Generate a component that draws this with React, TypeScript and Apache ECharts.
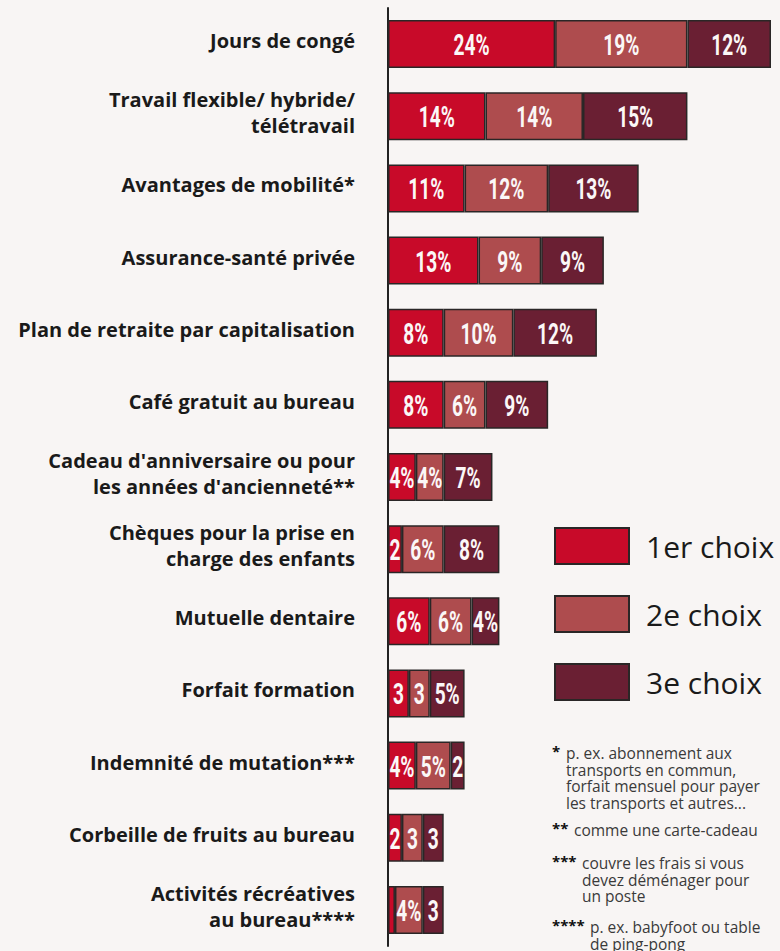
import React, { useEffect, useRef } from "react";
import * as echarts from "echarts";

const categories = [
  "Jours de congé",
  "Travail flexible/ hybride/\ntélétravail",
  "Avantages de mobilité*",
  "Assurance-santé privée",
  "Plan de retraite par capitalisation",
  "Café gratuit au bureau",
  "Cadeau d'anniversaire ou pour\nles années d'ancienneté**",
  "Chèques pour la prise en\ncharge des enfants",
  "Mutuelle dentaire",
  "Forfait formation",
  "Indemnité de mutation***",
  "Corbeille de fruits au bureau",
  "Activités récréatives\nau bureau****",
];

const firstChoice = [24, 14, 11, 13, 8, 8, 4, 2, 6, 3, 4, 2, 1];
const secondChoice = [19, 14, 12, 9, 10, 6, 4, 6, 6, 3, 5, 3, 4];
const thirdChoice = [12, 15, 13, 9, 12, 9, 7, 8, 4, 5, 2, 3, 3];

const seriesNames = ["1er choix", "2e choix", "3e choix"];
const seriesColors = ["#C80A29", "#AE4C4E", "#6A1F33"];

const footnotes = [
  { mark: "*", lines: ["p. ex. abonnement aux", "transports en commun,", "forfait mensuel pour payer", "les transports et autres..."] },
  { mark: "**", lines: ["comme une carte-cadeau"] },
  { mark: "***", lines: ["couvre les frais si vous", "devez déménager pour", "un poste"] },
  { mark: "****", lines: ["p. ex. babyfoot ou table", "de ping-pong"] },
];

const BG = "#F8F5F4";

export default function App() {
  const ref = useRef<HTMLDivElement>(null);

  useEffect(() => {
    document.body.style.margin = "0";
    document.body.style.background = BG;
    const chart = echarts.init(ref.current!, null, { renderer: "svg" });

    const fmt = (v: number) => {
      if (v >= 4) return v + "%";
      if (v >= 2) return String(v);
      return "";
    };

    const datasets = [firstChoice, secondChoice, thirdChoice];
    const series: any[] = datasets.map((d, i) => ({
      name: seriesNames[i],
      type: "bar",
      stack: "total",
      data: d,
      barWidth: 48,
      itemStyle: {
        color: seriesColors[i],
        borderColor: "#2A2626",
        borderWidth: 1.5,
      },
    }));

    // segment labels: [start, categoryIndex, end, value]
    const labelData: number[][] = [];
    categories.forEach((_, ci) => {
      let acc = 0;
      datasets.forEach((d) => {
        labelData.push([acc, ci, acc + d[ci], d[ci]]);
        acc += d[ci];
      });
    });

    series.push({
      type: "custom",
      name: "labels",
      z: 5,
      silent: true,
      data: labelData,
      encode: { x: [0, 2], y: 1 },
      renderItem: (params: any, api: any) => {
        const s = api.value(0);
        const ci = api.value(1);
        const e = api.value(2);
        const v = api.value(3);
        const p = api.coord([(s + e) / 2, ci]);
        return {
          type: "text",
          x: p[0],
          y: p[1] + 1,
          scaleX: 0.66,
          style: {
            text: fmt(v),
            fill: "#FBF7F7",
            font: "bold 29px Roboto, sans-serif",
            align: "center",
            verticalAlign: "middle",
          },
        };
      },
    });

    const footStarts = [753, 830, 863, 927];
    const textOffsets = [13, 21, 29, 37];
    const LH = 16.7;
    const graphics: any[] = [];
    footnotes.forEach((f, i) => {
      graphics.push({
        type: "text",
        left: 552,
        top: footStarts[i] - 10,
        style: {
          text: f.mark,
          font: "bold 15px 'Open Sans', sans-serif",
          fill: "#111",
        },
      });
      f.lines.forEach((line, j) => {
        graphics.push({
          type: "text",
          x: 553 + textOffsets[i],
          y: footStarts[i] + j * LH,
          style: {
            text: line,
            font: "15.5px 'Open Sans', sans-serif",
            fill: "#3A3A3A",
            verticalAlign: "middle",
            lineHeight: LH,
          },
        });
      });
    });

    chart.setOption({
      animation: false,
      backgroundColor: BG,
      grid: { left: 388, right: 9, top: 8, bottom: 5, containLabel: false },
      xAxis: {
        type: "value",
        min: 0,
        max: 55,
        show: false,
      },
      yAxis: {
        type: "category",
        data: categories,
        inverse: true,
        axisLine: { show: true, lineStyle: { color: "#222", width: 2 } },
        axisTick: { show: false },
        axisLabel: {
          margin: 33,
          color: "#1A1A1A",
          fontFamily: "'Open Sans', sans-serif",
          fontWeight: "bold",
          fontSize: 20,
          lineHeight: 26,
          align: "right",
          formatter: (v: string) => v + "\n{s| }",
          rich: {
            s: { height: 7, lineHeight: 7, fontSize: 2 },
          },
        },
      },
      legend: {
        data: seriesNames,
        orient: "vertical",
        left: 554,
        top: 527,
        padding: 0,
        icon: "rect",
        itemWidth: 74,
        itemHeight: 36,
        itemGap: 30,
        textStyle: {
          fontFamily: "'Open Sans', sans-serif",
          fontSize: 30,
          color: "#1A1A1A",
          padding: [0, 0, 0, 12],
        },
      },
      graphic: graphics,
      series,
    });

    return () => chart.dispose();
  }, []);

  return (
    <div
      ref={ref}
      style={{ position: "fixed", left: 0, top: 0, width: 780, height: 951, background: BG }}
    />
  );
}
